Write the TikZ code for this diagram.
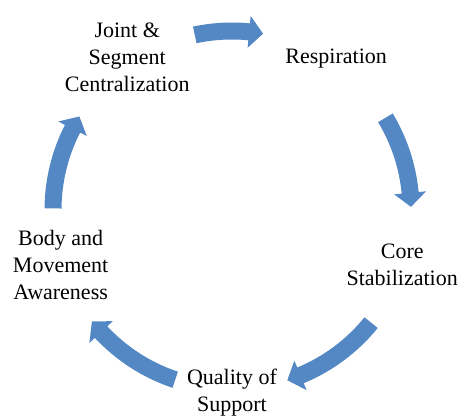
\documentclass[tikz,border=0pt]{standalone}
\usepackage{fontspec}
\setmainfont{Liberation Serif}
\definecolor{cycleblue}{RGB}{84,136,196}
\tikzset{
  cycletext/.style={align=center, inner sep=0pt, font=\fontsize{11}{13.5}\selectfont},
  cyclearrow/.style={fill=cycleblue, draw=none}
}
\newcommand{\cycarrow}[2]{%
  \fill[cyclearrow] (#1:187.5) arc[start angle=#1, end angle={#2+4.5}, radius=187.5]
    -- ({#2+4.5}:195) -- (#2:179) -- ({#2+4.5}:163) -- ({#2+4.5}:170.5)
    arc[start angle={#2+4.5}, end angle=#1, radius=170.5] -- cycle;}
\begin{document}
\begin{tikzpicture}[x=0.5pt, y=0.5pt]
      \useasboundingbox (-232,-209) rectangle (231,210);
      \draw
        (124.5:185) node[cycletext] (joint) {Joint \&\\Segment\\Centralization}
        (55.5:184) node[cycletext] (resp) {Respiration}
        (-18:179) node[cycletext] (core) {Core\\Stabilization}
        (-90:183) node[cycletext] (quality) {Quality of\\Support}
        (197.8:180) node[cycletext] (body) {Body and\\Movement\\Awareness};
      \begin{scope}
        \cycarrow{102}{80}
        \cycarrow{31}{1}
        \cycarrow{-39}{-72}
        \cycarrow{-108.5}{-141.5}
        \cycarrow{179.5}{148.5}
      \end{scope}
    \end{tikzpicture}
\end{document}
